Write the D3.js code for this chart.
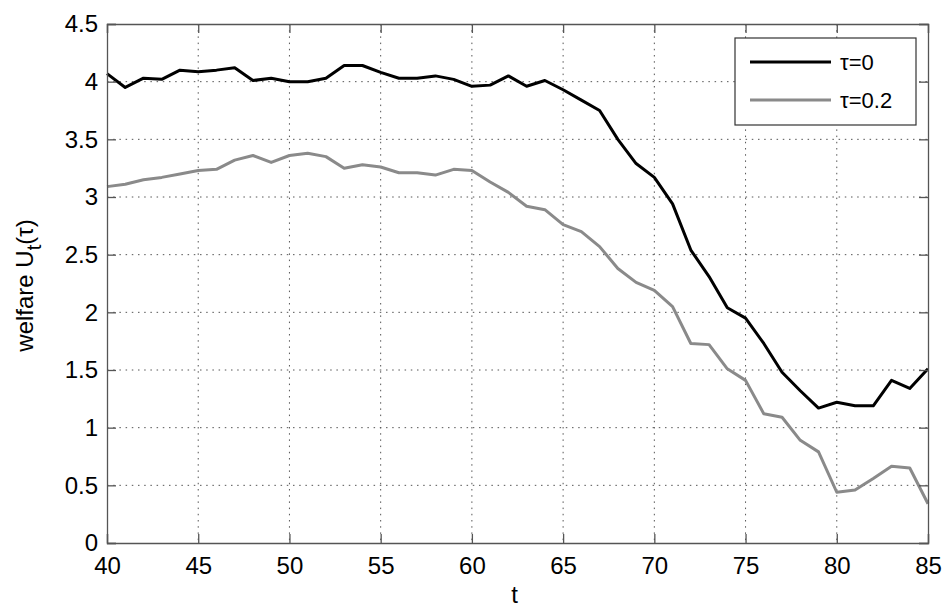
<!DOCTYPE html>
<html>
<head>
<meta charset="utf-8">
<script src="https://cdn.jsdelivr.net/npm/d3@7"></script>
<style>
  body { margin: 0; background: #fff; }
  text { font-family: Arial, "Liberation Sans", sans-serif; fill: #000; }
</style>
</head>
<body>
<script>
// data
var tValues = d3.range(40, 86);
var welfareTau0 = [4.07, 3.95, 4.03, 4.02, 4.10, 4.085, 4.10, 4.12, 4.01, 4.03,
                   4.00, 4.00, 4.03, 4.14, 4.14, 4.08, 4.03, 4.03, 4.05, 4.02,
                   3.96, 3.97, 4.05, 3.96, 4.01, 3.93, 3.84, 3.75, 3.50, 3.29,
                   3.17, 2.94, 2.54, 2.31, 2.04, 1.95, 1.73, 1.48, 1.32, 1.17,
                   1.22, 1.19, 1.19, 1.41, 1.34, 1.51];
var welfareTau02 = [3.09, 3.11, 3.15, 3.17, 3.20, 3.23, 3.24, 3.32, 3.36, 3.30,
                    3.36, 3.38, 3.35, 3.25, 3.28, 3.26, 3.21, 3.21, 3.19, 3.24,
                    3.23, 3.13, 3.04, 2.92, 2.89, 2.76, 2.70, 2.57, 2.38, 2.26,
                    2.19, 2.05, 1.73, 1.72, 1.51, 1.41, 1.12, 1.09, 0.89, 0.79,
                    0.44, 0.46, 0.56, 0.665, 0.65, 0.34];
var xTicks = [40, 45, 50, 55, 60, 65, 70, 75, 80, 85];
var yTicks = [0, 0.5, 1, 1.5, 2, 2.5, 3, 3.5, 4, 4.5];
var seriesNames = ["\u03c4=0", "\u03c4=0.2"];
var seriesColors = ["#000000", "#8a8a8a"];

var w = 945, h = 610;
var mLeft = 107, mRight = 928, mTop = 24, mBottom = 543;

var svg = d3.select("body").append("svg")
    .attr("width", w)
    .attr("height", h);

var x = d3.scaleLinear().domain([40, 85]).range([mLeft, mRight]);
var y = d3.scaleLinear().domain([0, 4.5]).range([mBottom, mTop]);

// dotted grid
var grid = svg.append("g").attr("class", "grid")
    .attr("stroke", "#555").attr("stroke-width", 1).attr("stroke-dasharray", "1.5,4.7");
grid.selectAll(".vg").data(xTicks.slice(1, -1)).enter().append("line")
    .attr("x1", d => x(d)).attr("x2", d => x(d))
    .attr("y1", mTop).attr("y2", mBottom);
grid.selectAll(".hg").data(yTicks.slice(1, -1)).enter().append("line")
    .attr("x1", mLeft).attr("x2", mRight)
    .attr("y1", d => y(d)).attr("y2", d => y(d));

// series lines
var line = d3.line().x((d, i) => x(tValues[i])).y(d => y(d));
[welfareTau0, welfareTau02].forEach(function(s, k) {
    svg.append("path")
        .datum(s)
        .attr("d", line)
        .attr("fill", "none")
        .attr("stroke", seriesColors[k])
        .attr("stroke-width", 3)
        .attr("stroke-linejoin", "round");
});

// axes, matlab style: ticks inward on all four sides
var tickLen = 9;
var bottomAxis = svg.append("g").attr("transform", "translate(0," + mBottom + ")")
    .call(d3.axisBottom(x).tickValues(xTicks).tickSize(-tickLen).tickPadding(14).tickFormat(d3.format("d")));
var topAxis = svg.append("g").attr("transform", "translate(0," + mTop + ")")
    .call(d3.axisTop(x).tickValues(xTicks).tickSize(-tickLen).tickFormat(""));
var leftAxis = svg.append("g").attr("transform", "translate(" + mLeft + ",0)")
    .call(d3.axisLeft(y).tickValues(yTicks).tickSize(-tickLen).tickPadding(9).tickFormat(d => d));
var rightAxis = svg.append("g").attr("transform", "translate(" + mRight + ",0)")
    .call(d3.axisRight(y).tickValues(yTicks).tickSize(-tickLen).tickFormat(""));

[bottomAxis, topAxis, leftAxis, rightAxis].forEach(function(a) {
    a.select(".domain").attr("stroke", "#555").attr("stroke-width", 1.3);
    a.selectAll(".tick line").attr("stroke", "#555").attr("stroke-width", 1.3);
    a.selectAll("text").style("font-size", "24px").attr("fill", "#000");
});

// axis labels
svg.append("text")
    .attr("x", (mLeft + mRight) / 2 - 3)
    .attr("y", 603)
    .attr("text-anchor", "middle")
    .style("font-size", "24px")
    .text("t");

var yl = svg.append("text")
    .attr("transform", "translate(33," + ((mTop + mBottom) / 2 + 2) + ") rotate(-90)")
    .attr("text-anchor", "middle")
    .style("font-size", "24px");
yl.append("tspan").text("welfare U");
yl.append("tspan").attr("dy", 8).style("font-size", "20px").text("t");
yl.append("tspan").attr("dy", -8).text("(\u03c4)");

// legend
var legend = svg.append("g").attr("class", "legend");
legend.append("rect")
    .attr("x", 735).attr("y", 38)
    .attr("width", 181).attr("height", 87)
    .attr("fill", "#fff")
    .attr("stroke", "#333").attr("stroke-width", 1.2);
seriesNames.forEach(function(name, k) {
    var ly = 62 + k * 38;
    legend.append("line")
        .attr("x1", 750).attr("x2", 831)
        .attr("y1", ly).attr("y2", ly)
        .attr("stroke", seriesColors[k]).attr("stroke-width", 3);
    legend.append("text")
        .attr("x", 840).attr("y", ly + 8)
        .style("font-size", "22px")
        .text(name);
});
</script>
</body>
</html>
